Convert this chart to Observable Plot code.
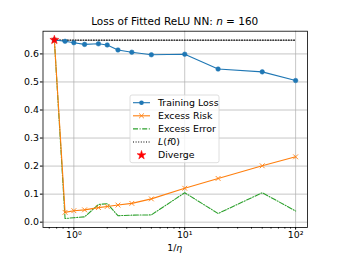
<!DOCTYPE html>
<html>
<head>
<meta charset="utf-8">
<script src="https://cdn.jsdelivr.net/npm/d3@7"></script>
<script src="https://cdn.jsdelivr.net/npm/@observablehq/plot@0.6"></script>
<style>
  html, body { margin: 0; padding: 0; background: #fff; }
  #wrap { position: relative; width: 341px; height: 256px; font-family: "DejaVu Sans", sans-serif; color: #000; }
  #title { position: absolute; left: 42.5px; width: 264.5px; top: 15px; text-align: center; font-size: 10.5px; white-space: nowrap; }
  #xlabel { position: absolute; left: 42.5px; width: 264.5px; top: 241.5px; text-align: center; font-size: 9.4px; white-space: nowrap; }
</style>
</head>
<body>
<div id="wrap">
  <div id="chart"></div>
  <div id="title">Loss of Fitted ReLU NN: <i>n</i> = 160</div>
  <div id="xlabel">1/<i>η</i></div>
</div>
<script>
// Data
const invEta       = [0.667, 0.833, 1, 1.25, 1.667, 2, 2.5, 3.333, 5, 10, 20, 50, 100];
const trainingLoss = [0.650, 0.645, 0.640, 0.634, 0.636, 0.632, 0.614, 0.606, 0.597, 0.599, 0.546, 0.536, 0.505];
const excessRisk   = [0.650, 0.035, 0.041, 0.044, 0.052, 0.056, 0.061, 0.067, 0.083, 0.121, 0.156, 0.201, 0.233];
const excessError  = [0.650, 0.013, 0.016, 0.019, 0.063, 0.066, 0.023, 0.025, 0.026, 0.105, 0.031, 0.105, 0.040];
const lossF0 = 0.649;
const divergeX = [0.667];
const divergeY = [0.650];
const yTicks = [0, 0.1, 0.2, 0.3, 0.4, 0.5, 0.6];
const xMajor = [1, 10, 100];
const xMajorLabels = ["10⁰", "10¹", "10²"];
const xMinor = [0.6, 0.7, 0.8, 0.9, 2, 3, 4, 5, 6, 7, 8, 9, 20, 30, 40, 50, 60, 70, 80, 90];

const C = { blue: "#1f77b4", orange: "#ff7f0e", green: "#2ca02c", red: "red" };

const rows = invEta.map((x, i) => ({ x, train: trainingLoss[i], risk: excessRisk[i], err: excessError[i] }));
const f0Line = [{ x: invEta[0], y: lossF0 }, { x: invEta[invEta.length - 1], y: lossF0 }];
const div = divergeX.map((x, i) => ({ x, y: divergeY[i] }));
const xLabelOf = new Map(xMajor.map((v, i) => [v, xMajorLabels[i]]));

const chart = Plot.plot({
  width: 341,
  height: 256,
  marginLeft: 42.5,
  marginRight: 34,
  marginTop: 30.7,
  marginBottom: 29,
  style: { fontFamily: "DejaVu Sans, sans-serif", fontSize: "9.4px", background: "white", color: "black" },
  x: { type: "log", domain: [0.527, 128] },
  y: { domain: [-0.019, 0.681] },
  marks: [
    Plot.gridX(xMajor, { stroke: "#b0b0b0", strokeOpacity: 0.8, strokeWidth: 0.9 }),
    Plot.gridY(yTicks, { stroke: "#b0b0b0", strokeOpacity: 0.8, strokeWidth: 0.9 }),
    Plot.axisY(yTicks, { tickSize: 2.6, tickPadding: 1.5, tickFormat: d3.format(".1f"), label: null, fontSize: 9.4 }),
    Plot.axisX(xMinor, { tickSize: 1.5, tickFormat: () => "", label: null }),
    Plot.axisX(xMajor, { tickSize: 2.6, tickPadding: 1, tickFormat: (d) => xLabelOf.get(d), label: null, fontSize: 9.4 }),
    Plot.line(f0Line, { x: "x", y: "y", stroke: "black", strokeWidth: 1.1, strokeDasharray: "1,1.6" }),
    Plot.line(rows, { x: "x", y: "err", stroke: C.green, strokeWidth: 1.1, strokeDasharray: "5,1.6,1,1.6" }),
    Plot.line(rows, { x: "x", y: "risk", stroke: C.orange, strokeWidth: 1.1 }),
    Plot.dot(rows, { x: "x", y: "risk", symbol: "times", r: 2.3, stroke: C.orange, strokeWidth: 0.9 }),
    Plot.line(rows, { x: "x", y: "train", stroke: C.blue, strokeWidth: 1.1 }),
    Plot.dot(rows, { x: "x", y: "train", r: 2.3, fill: C.blue, stroke: C.blue, strokeWidth: 0.5 }),
    Plot.dot(div, { x: "x", y: "y", symbol: "star", r: 2.8, fill: C.red, stroke: C.red, strokeWidth: 0.5 }),
    Plot.frame({ stroke: "black", strokeWidth: 0.8 })
  ]
});
document.getElementById("chart").appendChild(chart);

// Legend overlay
const legendItems = [
  { label: "Training Loss", kind: "blue" },
  { label: "Excess Risk", kind: "orange" },
  { label: "Excess Error", kind: "green" },
  { label: "L(f0)", kind: "dotted" },
  { label: "Diverge", kind: "star" }
];
const lg = d3.create("svg").attr("id", "legend").attr("width", 341).attr("height", 256)
  .style("position", "absolute").style("left", "0px").style("top", "0px");
const bx = 130, by = 95, bw = 89, bh = 67.7, rowH = 13.1, y0 = 102.7, sx0 = 133, sx1 = 150, tx = 158;
lg.append("rect").attr("x", bx).attr("y", by).attr("width", bw).attr("height", bh)
  .attr("rx", 2).attr("fill", "white").attr("fill-opacity", 0.8).attr("stroke", "#d5d5d5").attr("stroke-width", 0.8);
legendItems.forEach((it, i) => {
  const y = y0 + i * rowH;
  const g = lg.append("g");
  if (it.kind === "blue") {
    g.append("line").attr("x1", sx0).attr("x2", sx1).attr("y1", y).attr("y2", y).attr("stroke", C.blue).attr("stroke-width", 1.1);
    g.append("circle").attr("cx", (sx0 + sx1) / 2).attr("cy", y).attr("r", 2.3).attr("fill", C.blue);
  } else if (it.kind === "orange") {
    g.append("line").attr("x1", sx0).attr("x2", sx1).attr("y1", y).attr("y2", y).attr("stroke", C.orange).attr("stroke-width", 1.1);
    g.append("path").attr("transform", `translate(${(sx0 + sx1) / 2},${y})`).attr("d", d3.symbol(d3.symbolTimes, 2.3 * 2.3 * Math.PI)())
      .attr("fill", "none").attr("stroke", C.orange).attr("stroke-width", 0.9);
  } else if (it.kind === "green") {
    g.append("line").attr("x1", sx0).attr("x2", sx1).attr("y1", y).attr("y2", y).attr("stroke", C.green).attr("stroke-width", 1.1).attr("stroke-dasharray", "5,1.6,1,1.6");
  } else if (it.kind === "dotted") {
    g.append("line").attr("x1", sx0).attr("x2", sx1).attr("y1", y).attr("y2", y).attr("stroke", "black").attr("stroke-width", 1.1).attr("stroke-dasharray", "1,1.6");
  } else if (it.kind === "star") {
    g.append("path").attr("transform", `translate(${(sx0 + sx1) / 2},${y})`).attr("d", d3.symbol(d3.symbolStar, 2.8 * 2.8 * Math.PI)())
      .attr("fill", C.red).attr("stroke", C.red).attr("stroke-width", 0.5);
  }
  const t = g.append("text").attr("x", tx).attr("y", y).attr("dy", "0.35em")
    .attr("font-family", "DejaVu Sans, sans-serif").attr("font-size", 9.4).attr("fill", "black");
  if (it.kind === "dotted") {
    t.append("tspan").attr("font-style", "italic").text("L");
    t.append("tspan").text("(");
    t.append("tspan").attr("font-style", "italic").text("f");
    t.append("tspan").text("0)");
  } else {
    t.text(it.label);
  }
});
document.getElementById("wrap").appendChild(lg.node());
</script>
</body>
</html>
